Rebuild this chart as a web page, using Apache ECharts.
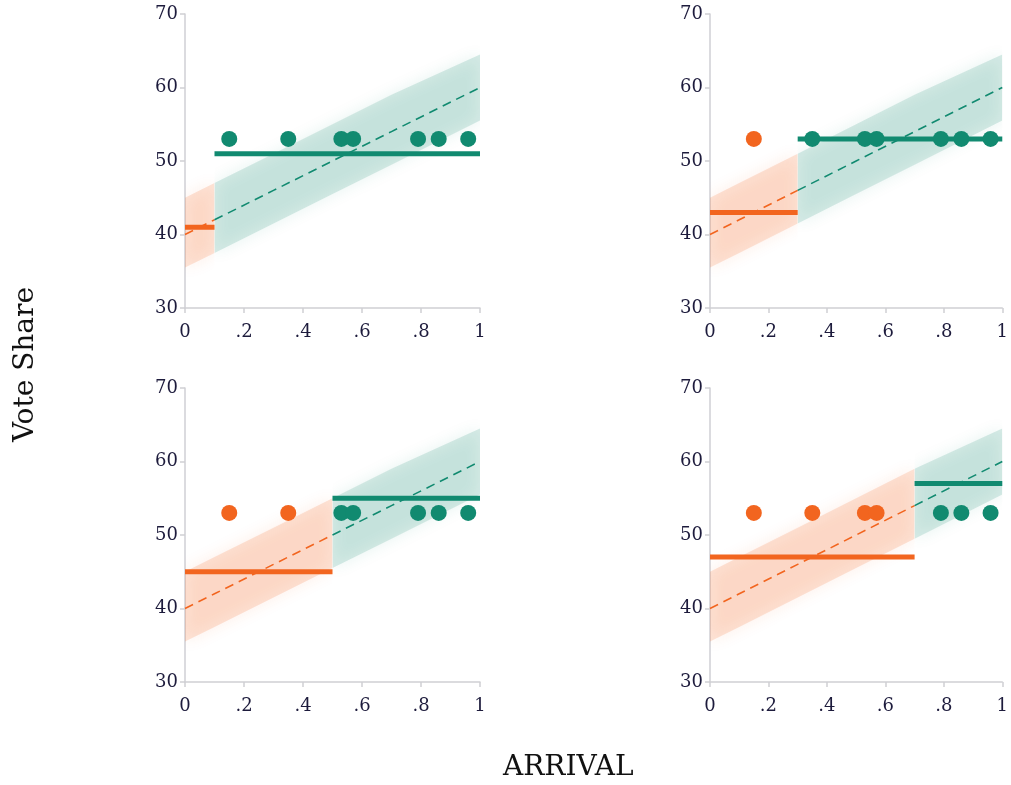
<!DOCTYPE html>
<html>
<head>
<meta charset="utf-8">
<script src="https://cdn.jsdelivr.net/npm/echarts@6/dist/echarts.min.js"></script>
<style>
  html, body { margin: 0; padding: 0; background: #fff; }
  #chart { width: 1011px; height: 785px; }
</style>
</head>
<body>
<div id="chart"></div>
<script>
// cutoff on the arrival axis for each panel
const cutoffs = [0.1, 0.3, 0.5, 0.7];
// mean vote share left / right of the cutoff
const leftMeans = [41, 43, 45, 47];
const rightMeans = [51, 53, 55, 57];
// observed arrivals, all drawn at the same vote share
const arrivals = [0.15, 0.35, 0.53, 0.57, 0.79, 0.86, 0.96];
const dotShare = 53;
// simulated cloud: lower / upper edge read at these arrivals
const cloudX = [0, 0.1, 0.3, 0.5, 0.7, 1];
const cloudLow = [35.5, 37.5, 41.5, 45.5, 49.5, 55.5];
const cloudHigh = [45, 47, 51, 55, 59, 64.5];
// trend (dashed) line
const trendY = [40, 42, 46, 50, 54, 60];

const TEAL = '#118a70';
const ORANGE = '#f2651f';
const INK = '#1d1b3c';

const grids = [
  { left: 185, top: 14, width: 295, height: 294 },
  { left: 710, top: 14, width: 295, height: 294 },
  { left: 185, top: 388, width: 295, height: 294 },
  { left: 710, top: 388, width: 295, height: 294 }
];

const chart = echarts.init(document.getElementById('chart'));

const xAxis = grids.map((g, i) => ({
  type: 'value', gridIndex: i, min: 0, max: 1, interval: 0.2,
  axisLine: { show: true, lineStyle: { color: '#cfcfd4', width: 1.5 } },
  axisTick: { show: true, length: 5, lineStyle: { color: '#cfcfd4', width: 1.5 } },
  splitLine: { show: false },
  axisLabel: {
    color: INK, fontFamily: 'DejaVu Serif', fontSize: 18, margin: 15,
    formatter: v => (v === 0 || v === 1) ? String(v) : String(Math.round(v * 10) / 10).replace('0.', '.')
  }
}));

const yAxis = grids.map((g, i) => ({
  type: 'value', gridIndex: i, min: 30, max: 70, interval: 10,
  axisLine: { show: true, lineStyle: { color: '#cfcfd4', width: 1.5 } },
  axisTick: { show: true, length: 5, lineStyle: { color: '#cfcfd4', width: 1.5 } },
  splitLine: { show: false },
  axisLabel: { color: INK, fontFamily: 'DejaVu Serif', fontSize: 18, margin: 7 }
}));

// soft-edged band, clipped at the cutoff so colours don't bleed
function cloudSeries(i, idxs, rgb, alpha) {
  const pts = [];
  idxs.forEach(k => pts.push([cloudX[k], cloudLow[k]]));
  idxs.slice().reverse().forEach(k => pts.push([cloudX[k], cloudHigh[k]]));
  const x0 = cloudX[idxs[0]];
  const x1 = cloudX[idxs[idxs.length - 1]];
  return {
    type: 'custom', xAxisIndex: i, yAxisIndex: i, silent: true, z: 1,
    data: [pts],
    renderItem: (params, api) => {
      const a = api.coord([x0, 75]);
      const b = api.coord([x1, 25]);
      return {
        type: 'group',
        clipPath: { type: 'rect', shape: { x: a[0], y: a[1], width: b[0] - a[0], height: b[1] - a[1] } },
        children: [{
          type: 'polygon',
          shape: { points: pts.map(p => api.coord(p)) },
          style: {
            fill: 'rgba(' + rgb + ',' + alpha + ')',
            shadowBlur: 16,
            shadowColor: 'rgba(' + rgb + ',0.6)'
          }
        }]
      };
    }
  };
}

const series = [];
cutoffs.forEach((t, i) => {
  const left = cloudX.map((x, k) => k).filter(k => cloudX[k] <= t);
  const right = cloudX.map((x, k) => k).filter(k => cloudX[k] >= t);

  series.push(cloudSeries(i, left, '242,101,31', 0.17));
  series.push(cloudSeries(i, right, '17,138,112', 0.16));

  // dashed trend line split at the cutoff
  series.push({
    type: 'line', xAxisIndex: i, yAxisIndex: i, silent: true, z: 2,
    symbol: 'none',
    data: left.map(k => [cloudX[k], trendY[k]]),
    lineStyle: { color: ORANGE, width: 1.6, type: [9, 6] }
  });
  series.push({
    type: 'line', xAxisIndex: i, yAxisIndex: i, silent: true, z: 2,
    symbol: 'none',
    data: right.map(k => [cloudX[k], trendY[k]]),
    lineStyle: { color: TEAL, width: 1.6, type: [9, 6] }
  });

  // mean lines
  series.push({
    type: 'line', xAxisIndex: i, yAxisIndex: i, silent: true, z: 3,
    symbol: 'none',
    data: [[0, leftMeans[i]], [t, leftMeans[i]]],
    lineStyle: { color: ORANGE, width: 5 }
  });
  series.push({
    type: 'line', xAxisIndex: i, yAxisIndex: i, silent: true, z: 3,
    symbol: 'none',
    data: [[t, rightMeans[i]], [1, rightMeans[i]]],
    lineStyle: { color: TEAL, width: 5 }
  });

  // observed dots
  series.push({
    type: 'scatter', xAxisIndex: i, yAxisIndex: i, silent: true, z: 4,
    symbolSize: 16,
    data: arrivals.map(x => ({
      value: [x, dotShare],
      itemStyle: { color: x < t ? ORANGE : TEAL, opacity: 1 }
    }))
  });
});

chart.setOption({
  animation: false,
  backgroundColor: '#fff',
  grid: grids,
  xAxis: xAxis,
  yAxis: yAxis,
  graphic: [
    {
      type: 'text', left: 12, top: 287, rotation: Math.PI / 2,
      style: { text: 'Vote Share', font: '28px "DejaVu Serif"', fill: '#111' }
    },
    {
      type: 'text', left: 503, top: 754,
      style: { text: 'ARRIVAL', font: '28px "DejaVu Serif"', fill: '#111' }
    }
  ],
  series: series
});
</script>
</body>
</html>
